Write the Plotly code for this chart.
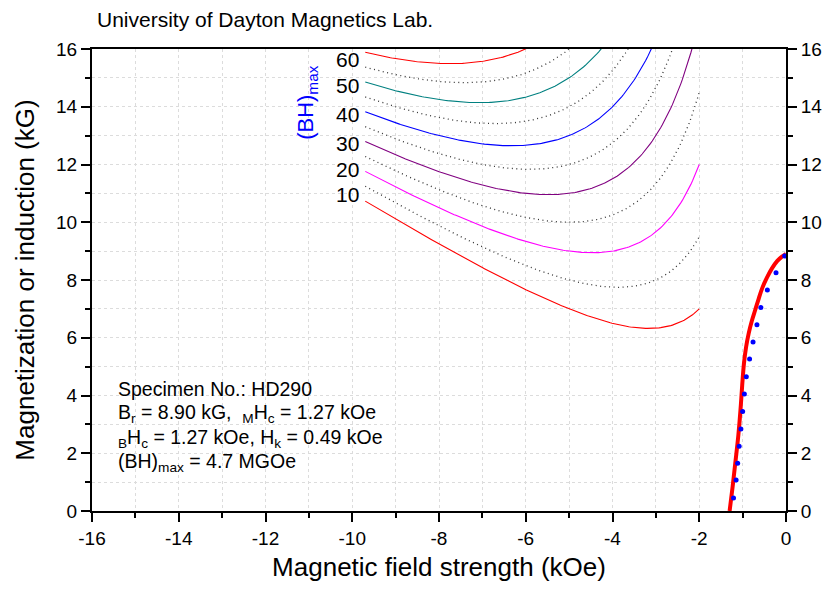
import numpy as np
import plotly.graph_objects as go

# ---------------- data ----------------
# Constant (BH)max contours, MGOe (solid = labelled, dotted = intermediate)
bh_levels = [10, 15, 20, 25, 30, 35, 40, 45, 50, 55, 60]
bh_colors = {10: "#FF0000", 20: "#FF00FF", 30: "#800080", 40: "#0000FF",
             50: "#008080", 60: "#FF0000"}
h_start, h_end = -9.7, -2.0

# label positions for the contour values
label_text = ["60", "50", "40", "30", "20", "10"]
label_y = [15.63, 14.72, 13.72, 12.74, 11.81, 10.95]

# measured demagnetization curve (red, thick)
m_h = [-1.30, -1.23, -1.17, -1.10, -1.05, -1.01, -0.97, -0.92, -0.86, -0.79,
       -0.71, -0.63, -0.55, -0.44, -0.32, -0.20, -0.10, 0.0]
m_m = [0.0, 0.85, 1.65, 2.60, 3.49, 4.35, 5.10, 5.68, 6.15, 6.57,
       6.96, 7.35, 7.71, 8.08, 8.41, 8.66, 8.80, 8.90]

# blue dotted points
b_h = [-1.21, -1.15, -1.115, -1.08, -1.04, -1.00, -0.96, -0.915, -0.84,
       -0.76, -0.67, -0.58, -0.43, -0.23, -0.03]
b_m = [0.45, 1.07, 1.65, 2.24, 2.84, 3.45, 4.05, 4.65, 5.26, 5.85,
       6.45, 7.05, 7.65, 8.25, 8.83]

x_ticks = [-16, -14, -12, -10, -8, -6, -4, -2, 0]
x_ticktext = ["-16", "-14", "-12", "-10", "-8", "-6", "-4", "-2", "0"]
y_ticks = [0, 2, 4, 6, 8, 10, 12, 14, 16]

FONT = "Liberation Sans, Arial, sans-serif"

fig = go.Figure()

# (BH)max contours: B*|H| = const  ->  M = BH/|H| + |H|
hh = np.linspace(h_start, h_end, 200)
for c in bh_levels:
    mm = c / np.abs(hh) + np.abs(hh)
    if c in bh_colors:
        line = dict(color=bh_colors[c], width=1.1)
    else:
        line = dict(color="#333333", width=1.3, dash="1px,3.5px")
    fig.add_trace(go.Scatter(x=hh, y=mm, mode="lines", line=line,
                             hoverinfo="skip", showlegend=False))

fig.add_trace(go.Scatter(x=m_h, y=m_m, mode="lines",
                         line=dict(color="#FF0000", width=4, shape="spline"),
                         showlegend=False))
fig.add_trace(go.Scatter(x=b_h, y=b_m, mode="markers",
                         marker=dict(color="#0000FF", size=5),
                         showlegend=False))
# invisible trace for right axis
fig.add_trace(go.Scatter(x=[-16, 0], y=[0, 16], yaxis="y2", mode="markers",
                         marker=dict(opacity=0), hoverinfo="skip",
                         showlegend=False))

for t, y in zip(label_text, label_y):
    fig.add_annotation(x=-9.8, y=y, text=t, showarrow=False, xanchor="right",
                       yanchor="middle", font=dict(size=21, color="black", family=FONT))

fig.add_annotation(x=-11.04, y=14.14, text="(BH)<sub>max</sub>", textangle=-90,
                   showarrow=False, xanchor="center", yanchor="middle",
                   font=dict(size=22, color="#0000FF", family=FONT))

info_lines = [
    "Specimen No.: HD290",
    "B<sub>r</sub> = 8.90 kG,  <sub>M</sub>H<sub>c</sub> = 1.27 kOe",
    "<sub>B</sub>H<sub>c</sub> = 1.27 kOe, H<sub>k</sub> = 0.49 kOe",
    "(BH)<sub>max</sub> = 4.7 MGOe",
]
info_px = [389, 413, 438, 462]

L, R, T, B = 92, 38, 49, 79
W, H = 824, 590
pw, ph = W - L - R, H - T - B

def px_x(px):
    return (px - L) / pw

def px_y(py):  # py measured from top of page
    return (H - py - B) / ph

for txt, py in zip(info_lines, info_px):
    fig.add_annotation(x=px_x(116), y=px_y(py), xref="paper", yref="paper",
                       text=txt, showarrow=False, xanchor="left", yanchor="middle",
                       font=dict(size=19.5, color="black", family=FONT))

fig.add_annotation(x=px_x(95), y=px_y(19), xref="paper", yref="paper",
                   text="University of Dayton Magnetics Lab.", showarrow=False,
                   xanchor="left", yanchor="middle",
                   font=dict(size=21, color="black", family=FONT))

axis_common = dict(
    showline=True, linecolor="black", linewidth=2,
    ticks="outside", ticklen=9, tickwidth=1.5, tickcolor="black",
    showgrid=True, gridcolor="#dcdcdc", griddash="dot", gridwidth=1,
    zeroline=False, automargin=False,
    tickfont=dict(size=19, color="black", family=FONT),
    minor=dict(dtick=1, ticks="outside", ticklen=5, tickwidth=1.5,
               tickcolor="black", showgrid=True, gridcolor="#dcdcdc",
               griddash="dot", gridwidth=1),
)

fig.update_layout(
    width=W, height=H,
    margin=dict(l=L, r=R, t=T, b=B),
    plot_bgcolor="white", paper_bgcolor="white",
    font=dict(family=FONT, color="black"),
    xaxis=dict(range=[-16, 0], tickvals=x_ticks, ticktext=x_ticktext, mirror=True,
               title=dict(text="Magnetic field strength (kOe)",
                          font=dict(size=26, family=FONT), standoff=10),
               **axis_common),
    yaxis=dict(range=[0, 16], tickvals=y_ticks, mirror=True,
               title=dict(text="Magnetization or induction (kG)",
                          font=dict(size=26, family=FONT), standoff=14),
               **axis_common),
    yaxis2=dict(range=[0, 16], tickvals=y_ticks, overlaying="y", side="right",
                **{k: v for k, v in axis_common.items()
                   if k not in ("showgrid", "minor")},
                showgrid=False,
                minor=dict(dtick=1, ticks="outside", ticklen=5, tickwidth=1.5,
                           tickcolor="black", showgrid=False)),
)

fig.write_html("out.html")
